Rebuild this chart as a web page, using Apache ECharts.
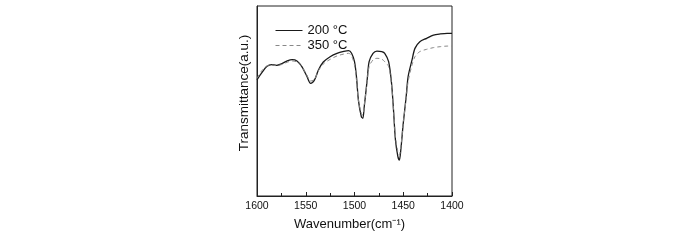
<!DOCTYPE html>
<html>
<head>
<meta charset="utf-8">
<script src="https://cdn.jsdelivr.net/npm/echarts@6/dist/echarts.min.js"></script>
<style>
  html, body { margin: 0; padding: 0; background: #fff; }
  #chart { width: 700px; height: 240px; }
</style>
</head>
<body>
<div id="chart"></div>
<script>
// wavenumbers (cm-1) and transmittance (arbitrary units)
var wave200 = [1600, 1595, 1590, 1585, 1580, 1574, 1569, 1564, 1559, 1554, 1549, 1545, 1541, 1537, 1532, 1525, 1518, 1511, 1506, 1503, 1500, 1498, 1496, 1493, 1491.5, 1490, 1487, 1485, 1481, 1477, 1472, 1469, 1465, 1462, 1460, 1458, 1455.5, 1454, 1452.5, 1450, 1447, 1445, 1441, 1438, 1433, 1426, 1419, 1412, 1405, 1400];
var trans200 = [61.1, 64.9, 68.1, 69.1, 68.8, 69.8, 71.1, 71.8, 71.1, 68.1, 63.2, 59.3, 61.1, 66.3, 70.5, 73.3, 75.1, 76.1, 76.5, 75.1, 70.7, 62.8, 50.5, 41.8, 40.9, 47.0, 61.1, 70.7, 75.1, 76.3, 76.0, 75.1, 70.7, 59.3, 45.3, 29.5, 20.7, 18.9, 24.2, 38.2, 52.3, 62.8, 71.6, 77.7, 81.2, 83.0, 84.7, 85.3, 85.6, 85.6];
var wave350 = wave200;
var trans350 = [61.9, 66.0, 68.4, 68.9, 68.6, 69.3, 70.4, 71.1, 70.5, 68.1, 63.7, 60.5, 61.4, 65.9, 69.5, 71.9, 73.7, 74.7, 75.1, 73.7, 68.9, 61.1, 50.5, 43.5, 42.6, 47.9, 60.2, 68.1, 71.6, 72.5, 72.0, 70.7, 68.1, 58.4, 45.3, 31.2, 23.3, 21.6, 26.0, 38.2, 51.4, 60.2, 69.0, 73.3, 76.0, 77.2, 78.1, 78.6, 78.9, 78.9];
var seriesNames = ['200 °C', '350 °C'];

function pairs(xs, ys) {
    return xs.map(function (x, i) { return [x, ys[i]]; });
}

var chart = echarts.init(document.getElementById('chart'));
var font = 'Liberation Sans, Arial, sans-serif';

chart.setOption({
    animation: false,
    grid: {
        left: 257, right: 248, top: 6, bottom: 44,
        show: true, borderColor: '#222', borderWidth: 1, backgroundColor: 'transparent'
    },
    legend: {
        orient: 'vertical',
        left: 270, top: 19,
        itemWidth: 27, itemHeight: 10, itemGap: 2,
        itemStyle: { color: 'transparent', borderColor: 'transparent', borderWidth: 0 },
        lineStyle: { width: 1 },
        textStyle: { fontFamily: font, fontSize: 13, color: '#111' },
        data: seriesNames
    },
    xAxis: {
        type: 'value', inverse: true,
        min: 1400, max: 1600, interval: 50,
        name: 'Wavenumber(cm⁻¹)', nameLocation: 'middle', nameGap: 22,
        nameTextStyle: { fontFamily: font, fontSize: 13, color: '#111', padding: [0, 10, 0, 0] },
        axisLine: { lineStyle: { color: '#222' } },
        axisTick: { inside: true, length: 4, lineStyle: { color: '#222' } },
        minorTick: { show: true, splitNumber: 2, length: 3, lineStyle: { color: '#222' } },
        axisLabel: {
            fontFamily: font, fontSize: 10.5, color: '#111', margin: 5,
            formatter: function (v) { return String(v); }
        },
        splitLine: { show: false }
    },
    yAxis: {
        type: 'value', min: 0, max: 100,
        name: 'Transmittance(a.u.)', nameLocation: 'middle', nameGap: 6,
        nameTextStyle: { fontFamily: font, fontSize: 13.5, color: '#111', padding: [0, 0, 0, 16] },
        axisLine: { show: true, lineStyle: { color: '#222' } },
        axisTick: { show: false },
        axisLabel: { show: false },
        splitLine: { show: false }
    },
    series: [
        {
            name: seriesNames[0], type: 'line', smooth: 0.3, showSymbol: false, symbol: 'none',
            data: pairs(wave200, trans200),
            lineStyle: { color: '#1a1a1a', width: 1.3 },
            itemStyle: { color: '#1a1a1a' }
        },
        {
            name: seriesNames[1], type: 'line', smooth: 0.3, showSymbol: false, symbol: 'none',
            data: pairs(wave350, trans350),
            lineStyle: { color: '#888', width: 1, type: [4, 3] },
            itemStyle: { color: '#888' }
        }
    ]
});
</script>
</body>
</html>
